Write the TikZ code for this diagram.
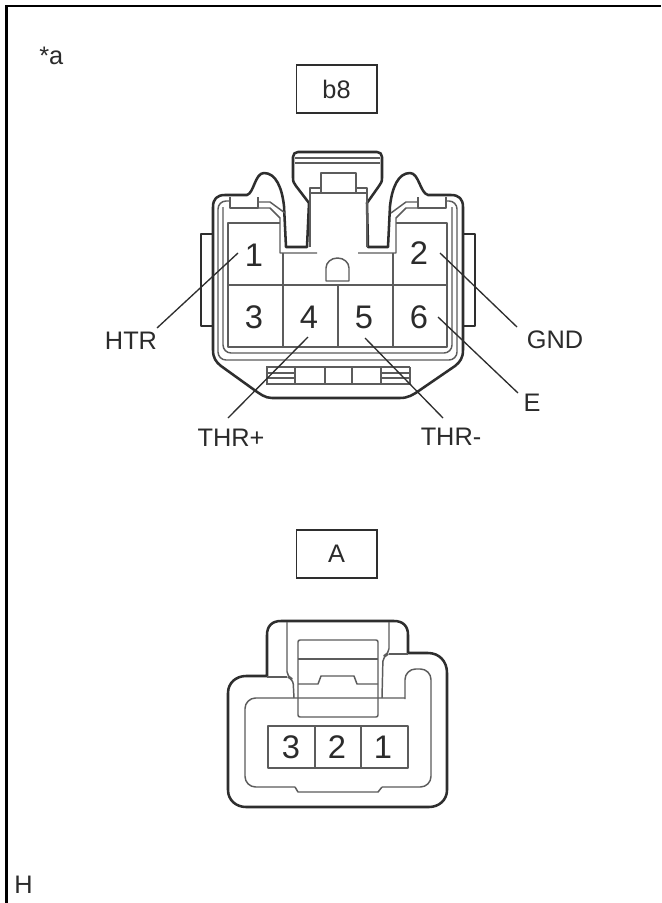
\documentclass[tikz,border=0pt]{standalone}
\usepackage{fontspec}
\setmainfont{Liberation Sans}
\definecolor{ln}{gray}{0.18}
\definecolor{lg}{gray}{0.36}
\definecolor{tx}{gray}{0.17}
\tikzset{
  heavy/.style={draw=ln,line width=1.9pt,line join=round},
  thin1/.style={draw=lg,line width=1.1pt,line join=round},
  leader/.style={draw=ln,line width=1pt},
  digit/.style={font=\fontsize{24.5}{25}\selectfont,text=tx,inner sep=0pt},
  lab/.style={font=\fontsize{19}{20}\selectfont,text=tx,inner sep=0pt},
  tagbox/.style={draw=ln,line width=1pt,minimum width=60.5pt,minimum height=36pt,inner sep=0pt,font=\fontsize{19}{20}\selectfont,text=tx}
}
\begin{document}
\begin{tikzpicture}[x=0.75pt,y=-0.75pt]
\useasboundingbox (0,0) rectangle (661,903);
\fill[white] (0,0) rectangle (661,903);
\draw[black,line width=2pt] (6.5,903) -- (6.5,6) -- (661,6);
\node[lab,anchor=west] (star) at (39,56) {*a};
\node[lab,anchor=west] (hh) at (14,885) {H};
\node[tagbox] (b8) at (336.5,89) {b8};
\node[tagbox] (A) at (336.5,554) {A};

% upper connector: outer shell
\draw[heavy] (213,300) -- (213,207) .. controls (213,199) and (217,195) .. (225,195) -- (247,195) .. controls (254,193) and (255,173) .. (264,173) .. controls (276,173) and (282,188) .. (284,206) -- (286,247) -- (307,247) -- (309,203) -- (296,186) .. controls (294,183) and (293,182) .. (293,178) -- (293,157) .. controls (293,154) and (295,152) .. (298,152) -- (377,152) .. controls (380,152) and (382,154) .. (382,157) -- (382,178) .. controls (382,182) and (381,183) .. (379,186) -- (367,203) -- (368,247) -- (388,247) -- (390,206) .. controls (392,188) and (398,173) .. (410,173) .. controls (419,173) and (420,193) .. (428,195) -- (451,195) .. controls (459,195) and (463,199) .. (463,207) -- (463,350) .. controls (463,358) and (460,362) .. (455,366) -- (420,390) .. controls (413,395) and (408,398) .. (400,398) -- (272,398) .. controls (265,398) and (260,394) .. (253,389) -- (221,366) .. controls (216,362) and (213,358) .. (213,350) -- cycle;
% latch
\draw[thin1] (295,158) -- (380,158) (295,163) -- (380,163);
\draw[thin1] (321,193) -- (321,173) -- (356,173) -- (356,193);
\draw[thin1] (310,247) -- (310,188) -- (321,188) (356,188) -- (367,188) -- (367,247);
\draw[thin1] (310,193) -- (367,193);
% side tabs
\draw[heavy,line width=1.5pt] (213,234) -- (201,234) -- (201,326) -- (213,326);
\draw[heavy,line width=1.5pt] (463,234) -- (475,234) -- (475,326) -- (463,326);
% inner shells
\draw[thin1,rounded corners=6pt] (230,201) -- (218,201) -- (218,360) -- (457,360) -- (457,201) -- (445,201);
\draw[thin1,rounded corners=6pt] (223,207) -- (223,353) -- (452,353) -- (452,207);
\draw[thin1] (230,197) -- (230,208) -- (258,208) -- (258,197);
\draw[thin1] (418,197) -- (418,208) -- (446,208) -- (446,197);
\draw[thin1] (258,202) -- (270,202) -- (285,213);
\draw[thin1] (258,208) -- (270,208) -- (280,218) -- (280,253) -- (317,253);
\draw[thin1] (418,202) -- (406,202) -- (391,213);
\draw[thin1] (418,208) -- (406,208) -- (396,218) -- (396,253) -- (358,253);
% cavities
\draw[thin1] (280,223) -- (228,223) -- (228,347) -- (447,347) -- (447,223) -- (396,223);
\draw[thin1] (228,285) -- (447,285);
\draw[thin1] (283,253) -- (283,347);
\draw[thin1] (338,285) -- (338,347);
\draw[thin1] (393,253) -- (393,347);
\draw[thin1] (326,281) -- (326,268) arc[start angle=180,end angle=360,x radius=11.5,y radius=10] -- (349,281) -- cycle;
% ribs
\draw[thin1,line width=0.8pt] (266,367) -- (410,367) (266,373) -- (295,373) (381,373) -- (410,373) (266,378) -- (295,378) (381,378) -- (410,378);
\draw[thin1,line width=0.9pt] (266,384) -- (410,384);
\foreach \rx in {267,295,325,352,381,410} \draw[thin1,line width=0.8pt] (\rx,367) -- (\rx,384);
% digits
\node[digit] (d1) at (254,255) {1};
\node[digit] (d2) at (419,253) {2};
\node[digit] (d3) at (254,317) {3};
\node[digit] (d4) at (309,317) {4};
\node[digit] (d5) at (364,317) {5};
\node[digit] (d6) at (419,317) {6};
% labels and leaders
\node[lab] (htr) at (131,341) {HTR};
\node[lab] (gnd) at (555,340) {GND};
\node[lab] (e) at (532,403) {E};
\node[lab] (thp) at (231,438) {THR+};
\node[lab] (thm) at (451,437) {THR-};
\coordinate (p1) at (238,253);
\coordinate (p2) at (440,253);
\coordinate (p4) at (308,337);
\coordinate (p5) at (365,338);
\coordinate (p6) at (438,317);
\coordinate (q1) at (157,328);
\coordinate (q2) at (517,327);
\coordinate (q4) at (228,418);
\coordinate (q5) at (443,418);
\coordinate (q6) at (518,393);
\draw[leader] (p1) -- (q1);
\draw[leader] (p2) -- (q2);
\draw[leader] (p6) -- (q6);
\draw[leader] (p4) -- (q4);
\draw[leader] (p5) -- (q5);

% lower connector
\draw[heavy] (267,676) -- (267,635) .. controls (267,626) and (272,621) .. (281,621) -- (394,621) .. controls (403,621) and (408,626) .. (408,635) -- (408,653) -- (428,653) .. controls (439,653) and (447,661) .. (447,673) -- (447,790) .. controls (447,800) and (439,807) .. (429,807) -- (246,807) .. controls (236,807) and (228,800) .. (228,790) -- (228,693) .. controls (228,683) and (236,676) .. (246,676) -- cycle;
\draw[thin1,rounded corners=8pt] (295,787) -- (245,787) -- (245,698) -- (405,698);
\draw[thin1] (295,787) -- (298,792) -- (378,792) -- (382,787);
\draw[thin1,rounded corners=8pt] (382,787) -- (431,787) -- (431,669) -- (405,669) -- (405,699);
\draw[thin1,rounded corners=4pt] (287,622) -- (287,677) -- (293,679) -- (294,698);
\draw[thin1,rounded corners=4pt] (389,622) -- (389,654) -- (383,656) -- (382,698);
\draw[thin1] (267,677) -- (287,677) (389,654) -- (408,654);
\draw[thin1,rounded corners=1.5pt] (298,640) rectangle (378,717);
\draw[thin1] (298,659) -- (378,659);
\draw[thin1] (298,684) -- (318,684) -- (321,676) -- (354,676) -- (357,684) -- (378,684);
\draw[thin1] (268,726) rectangle (408,768);
\draw[thin1] (315,726) -- (315,768) (361,726) -- (361,768);
\node[digit] (e3) at (291,747) {3};
\node[digit] (e2) at (337,747) {2};
\node[digit] (e1) at (383,747) {1};
\end{tikzpicture}
\end{document}
